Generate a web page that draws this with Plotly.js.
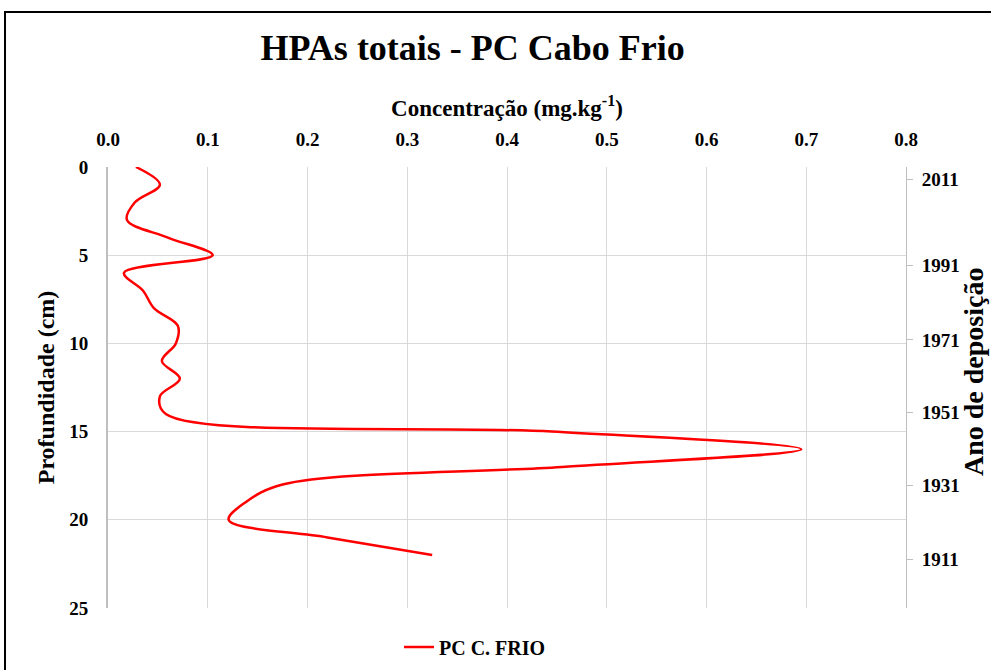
<!DOCTYPE html>
<html>
<head>
<meta charset="utf-8">
<script src="https://cdn.plot.ly/plotly-3.0.1.min.js"></script>
<style>
  html, body { margin: 0; padding: 0; background: #fff; overflow: hidden; }
  #wrap { position: relative; width: 991px; height: 670px; overflow: hidden; }
  #chart { width: 991px; height: 670px; }
  #frame { position: absolute; left: 4px; top: 11px; width: 1100px; height: 800px;
           border: 2px solid #000; pointer-events: none; box-sizing: border-box; }
</style>
</head>
<body>
<div id="wrap">
  <div id="chart"></div>
  <div id="frame"></div>
</div>
<script>
// Depth (cm) and total PAH concentration (mg/kg)
const profundidade = [0, 1, 2, 3, 4, 5, 6, 7, 8, 9, 10, 11, 12, 13, 14, 15, 16, 17, 18, 19, 20, 21, 22];
const concentracao = [0.028, 0.052, 0.027, 0.019, 0.060, 0.105, 0.016, 0.035, 0.046, 0.070, 0.068, 0.054, 0.072, 0.052, 0.058, 0.445, 0.695, 0.455, 0.175, 0.138, 0.121, 0.220, 0.325];

// Right axis: deposition years and their depths
const anoDeposicao = ['2011', '1991', '1971', '1951', '1931', '1911'];
const profundidadeAno = [0.71, 5.58, 9.80, 13.90, 18.07, 22.23];

const xTicks = [0, 0.1, 0.2, 0.3, 0.4, 0.5, 0.6, 0.7, 0.8];
const yTicks = [0, 5, 10, 15, 20, 25];

const serif = 'Liberation Serif, Times New Roman, serif';

const trace = {
  x: concentracao,
  y: profundidade,
  type: 'scatter',
  mode: 'lines',
  name: 'PC C. FRIO',
  line: { color: '#ff0000', width: 2.5, shape: 'spline', smoothing: 1 },
  xaxis: 'x',
  yaxis: 'y'
};

// empty trace that only anchors the right-hand (year) axis
const anchorTrace = {
  x: [],
  y: [],
  type: 'scatter',
  mode: 'lines',
  showlegend: false,
  hoverinfo: 'skip',
  xaxis: 'x',
  yaxis: 'y2'
};

const layout = {
  width: 991,
  height: 670,
  paper_bgcolor: '#ffffff',
  plot_bgcolor: '#ffffff',
  margin: { l: 108, r: 85, t: 167, b: 62, autoexpand: false },
  font: { family: serif, color: '#000', size: 18 },
  title: {
    text: '<b>HPAs totais - PC Cabo Frio</b>',
    font: { family: serif, size: 36, color: '#000' },
    xref: 'container', yref: 'container',
    x: 0.477, xanchor: 'center',
    y: 1 - 47 / 670, yanchor: 'middle'
  },
  xaxis: {
    side: 'top',
    range: [0, 0.8],
    tickvals: xTicks,
    tickformat: '.1f',
    showgrid: true,
    gridcolor: '#d9d9d9',
    gridwidth: 1,
    zeroline: false,
    showline: false,
    ticks: '',
    ticklabelstandoff: 16,
    tickfont: { family: serif, size: 19, color: '#000', weight: 'bold' },
    title: {
      text: '<b>Concentração (mg.kg<sup>-1</sup>)</b>',
      font: { family: serif, size: 23, color: '#000' },
      standoff: 6
    },
    automargin: false
  },
  yaxis: {
    range: [25, 0],
    tickvals: yTicks,
    showgrid: true,
    gridcolor: '#d9d9d9',
    gridwidth: 1,
    zeroline: false,
    showline: true,
    linecolor: '#bfbfbf',
    linewidth: 2,
    ticks: '',
    ticklabelstandoff: 14,
    tickfont: { family: serif, size: 19, color: '#000', weight: 'bold' },
    title: {
      text: '<b>Profundidade (cm)</b>',
      font: { family: serif, size: 24, color: '#000' },
      standoff: 8
    },
    automargin: false
  },
  yaxis2: {
    overlaying: 'y',
    side: 'right',
    range: [25, 0],
    tickvals: profundidadeAno,
    ticktext: anoDeposicao,
    showgrid: false,
    zeroline: false,
    showline: true,
    linecolor: '#bfbfbf',
    linewidth: 1,
    ticks: 'outside',
    ticklen: 6,
    tickcolor: '#bfbfbf',
    ticklabelstandoff: 5,
    tickfont: { family: serif, size: 19, color: '#000', weight: 'bold' },
    automargin: false
  },
  annotations: [
    {
      text: '<b>Ano de deposição</b>',
      xref: 'paper', yref: 'paper',
      x: (973 - 108) / 798, y: (608 - 372) / 441,
      xanchor: 'center', yanchor: 'middle',
      textangle: -90,
      showarrow: false,
      font: { family: serif, size: 28, color: '#000' }
    }
  ],
  showlegend: true,
  legend: {
    orientation: 'h',
    x: (475 - 108) / 798, xanchor: 'center',
    y: (608 - 647) / 441, yanchor: 'middle',
    font: { family: serif, size: 20, color: '#000', weight: 'bold' },
    bgcolor: 'rgba(0,0,0,0)'
  }
};

Plotly.newPlot('chart', [trace, anchorTrace], layout, { displayModeBar: false, staticPlot: true });
</script>
</body>
</html>
